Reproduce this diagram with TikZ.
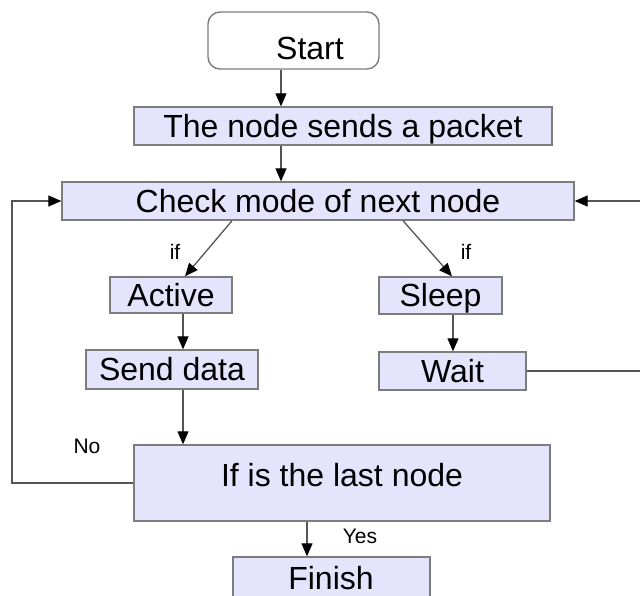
\documentclass[tikz,border=0pt]{standalone}
\usepackage{fontspec}
\setmainfont{Liberation Sans}
\usetikzlibrary{arrows.meta}
\definecolor{boxfill}{RGB}{228,228,252}
\definecolor{boxline}{RGB}{125,125,125}
\definecolor{lineclr}{RGB}{85,85,85}
\begin{document}
\begin{tikzpicture}[x=1pt,y=-1pt,
  box/.style={draw=boxline,fill=boxfill,line width=1.4pt,inner sep=0pt,font=\fontsize{32}{36}\selectfont,text height=22.9pt,text depth=0pt},
  txt/.style={inner sep=0pt,font=\fontsize{32}{36}\selectfont,text height=22.9pt,text depth=0pt},
  conn/.style={draw=lineclr,line width=1.3pt},
  arr/.style={conn,-{Triangle[length=13pt,width=11pt,color=black]}},
  lbl/.style={font=\fontsize{21}{24}\selectfont,inner sep=0pt,text height=15pt,text depth=0pt}]
\useasboundingbox (0,0) rectangle (640,595);
\fill[white] (0,0) rectangle (640,595);
% boxes
\node[box,fill=white,rounded corners=12pt,minimum width=171pt,minimum height=57pt] (start) at (293.5,40.5) {};
\node[txt] (starttext) at (310,48) {Start};
\node[box,minimum width=418pt,minimum height=38pt] (packet) at (343,126) {The node sends a packet};
\node[box,minimum width=512pt,minimum height=38pt] (check) at (318,201) {Check mode of next node};
\node[box,minimum width=122pt,minimum height=36pt] (active) at (171,295) {Active};
\node[box,minimum width=123pt,minimum height=37pt] (sleep) at (440.5,295.5) {Sleep};
\node[box,minimum width=172pt,minimum height=39pt] (send) at (172,369.5) {Send data};
\node[box,minimum width=147pt,minimum height=38pt] (wait) at (452.5,371) {Wait};
\node[box,minimum width=416pt,minimum height=76pt] (last) at (342,483) {};
\node[txt] (lasttext) at (342,475) {If is the last node};
\node[box,minimum width=197pt,minimum height=43pt] (finish) at (331.5,578.5) {};
\node[txt] (finishtext) at (331,578) {Finish};
% helper x positions
\coordinate (x281) at (281,0);
\coordinate (x232) at (232,0);
\coordinate (x185) at (185,0);
\coordinate (x403) at (403,0);
\coordinate (x452) at (452,0);
\coordinate (x183) at (183,0);
\coordinate (x453) at (453,0);
\coordinate (x307) at (307,0);
\coordinate (xl) at (12,0);
\coordinate (xr) at (645,0);
% connectors
\draw[arr] (start.south -| x281) -- (packet.north -| x281);
\draw[arr] (packet.south -| x281) -- (check.north -| x281);
\draw[arr] (check.south -| x232) -- (active.north -| x185);
\draw[arr] (check.south -| x403) -- (sleep.north -| x452);
\draw[arr] (active.south -| x183) -- (send.north -| x183);
\draw[arr] (sleep.south -| x453) -- (wait.north -| x453);
\draw[arr] (send.south -| x183) -- (last.north -| x183);
\draw[arr] (last.south -| x307) -- (finish.north -| x307);
\draw[arr] (last.west) -- (last.west -| xl) |- (check.west);
\draw[arr] (wait.east) -- (wait.east -| xr) |- (check.east);
% labels
\node[lbl] (if1) at (175,252) {if};
\node[lbl] (if2) at (466,252) {if};
\node[lbl] (no) at (87,446) {No};
\node[lbl] (yes) at (360,536) {Yes};
\end{tikzpicture}
\end{document}
